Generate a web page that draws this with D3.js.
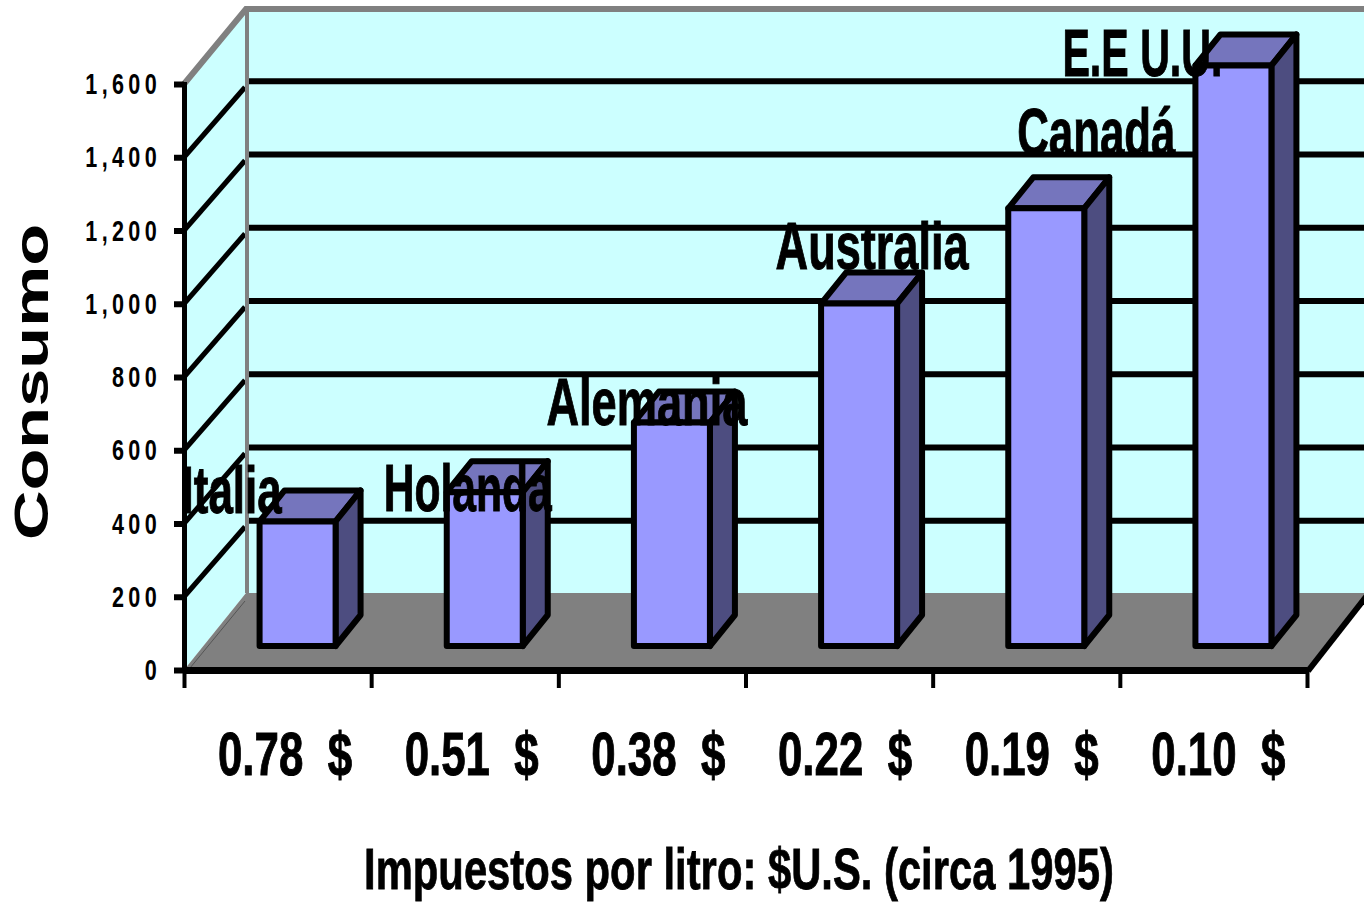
<!DOCTYPE html>
<html>
<head>
<meta charset="utf-8">
<script src="https://cdn.jsdelivr.net/npm/d3@7"></script>
<style>
body { margin: 0; background: #fff; }
svg { display: block; }
text { font-family: "Liberation Sans Narrow", "Liberation Sans", Arial, sans-serif; font-weight: bold; fill: #000; }
</style>
</head>
<body>
<div class="graphic"></div>
<script>
var paises = ["Italia", "Holanda", "Alemania", "Australia", "Canadá", "E.E U.U."];
var impuestos = ["0.78  $", "0.51  $", "0.38  $", "0.22  $", "0.19  $", "0.10  $"];
var consumo = [340, 420, 610, 935, 1195, 1585];
var yTicks = [0, 200, 400, 600, 800, 1000, 1200, 1400, 1600];

// labels sit by hand in the original, so nudge each one from its bar
var labelDx = [-66, -17, -25, 13, 50, -91];
var labelDy = [-8, 19, 2, -35, -53, 11];
var labelLen = [100, 168, 201, 193, 158, 160];

var width = 1364;
var height = 902;
var depthX = 62, depthY = -77;   // back wall offset
var barDx = 25, barDy = -31;     // bar side offset
var barW = 76;

var svg = d3.select("div.graphic").append("svg")
	.attr("width", width)
	.attr("height", height);

var y = d3.scaleLinear().domain([0, 1600]).range([670, 84]);
var xBand = d3.scaleBand().domain(paises).range([184, 1307]);
var xEdge = d3.scaleLinear().domain([0, 6]).range([184, 1307]);
var xLabel = d3.scaleBand().domain(impuestos).range([184, 1304]);

function pts(list){
	return list.map(function(p){ return p.join(","); }).join(" ");
}

var x0 = xEdge(0), x1 = xEdge(6), y0 = y(0), yTop = y(1600);

// walls and floor
svg.append("polygon").attr("fill", "#CCFFFF")
	.attr("points", pts([[x0+depthX, yTop+depthY], [width+10, yTop+depthY], [width+10, y0+depthY], [x0+depthX, y0+depthY]]));
svg.append("polygon").attr("fill", "#CCFFFF")
	.attr("points", pts([[x0, yTop], [x0+depthX, yTop+depthY], [x0+depthX, y0+depthY], [x0, y0]]));
svg.append("polygon").attr("fill", "#808080")
	.attr("points", pts([[x0, y0], [x1, y0], [x1+depthX, y0+depthY], [x0+depthX, y0+depthY]]));

// gridlines, back wall then side wall
var inner = yTicks.filter(function(d){ return d > 0 && d < 1600; });
svg.append("g").selectAll("line")
	.data(inner)
	.enter()
	.append("line")
	.attr("x1", x0+depthX).attr("x2", width+10)
	.attr("y1", function(d){ return y(d)+depthY+1; })
	.attr("y2", function(d){ return y(d)+depthY+1; })
	.attr("stroke", "#000").attr("stroke-width", 6);
svg.append("g").selectAll("line")
	.data(inner)
	.enter()
	.append("line")
	.attr("x1", x0).attr("x2", x0+depthX-1)
	.attr("y1", function(d){ return y(d); })
	.attr("y2", function(d){ return y(d)+depthY+7; })
	.attr("stroke", "#000").attr("stroke-width", 5);

// grey top edges of the walls
svg.append("polyline").attr("fill", "none").attr("stroke", "#808080").attr("stroke-width", 6)
	.attr("points", pts([[x0, yTop], [x0+depthX, yTop+depthY+2], [width+10, yTop+depthY+2]]));
svg.append("line").attr("stroke", "#808080").attr("stroke-width", 4)
	.attr("x1", x0+depthX+1).attr("x2", x0+depthX+1).attr("y1", yTop+depthY).attr("y2", y0+depthY);
svg.append("line").attr("stroke", "#555").attr("stroke-width", 1)
	.attr("x1", x0+6).attr("y1", y0-2).attr("x2", x0+depthX-1).attr("y2", y0+depthY+8);

// floor right edge
svg.append("line").attr("stroke", "#000").attr("stroke-width", 6)
	.attr("x1", x1+1).attr("y1", y0+1).attr("x2", x1+depthX).attr("y2", y0+depthY);

// bars
var bars = svg.append("g").selectAll("g")
	.data(consumo)
	.enter()
	.append("g")
	.attr("stroke", "#000")
	.attr("stroke-width", 6)
	.attr("stroke-linejoin", "round");

function barLeft(i){ return xBand(paises[i]) + xBand.bandwidth()/2 + 20 - barW/2; }
var barBase = y(0) - 24;
function barTop(d){ return y(d) - 24; }

bars.append("polygon").attr("fill", "#7575BD")
	.attr("points", function(d, i){
		var l = barLeft(i), t = barTop(d);
		return pts([[l, t], [l+barDx, t+barDy], [l+barW+barDx, t+barDy], [l+barW, t]]);
	});
bars.append("polygon").attr("fill", "#4D4D80")
	.attr("points", function(d, i){
		var r = barLeft(i)+barW, t = barTop(d);
		return pts([[r, t], [r+barDx, t+barDy], [r+barDx, barBase+barDy], [r, barBase]]);
	});
bars.append("rect").attr("fill", "#9999FF")
	.attr("x", function(d, i){ return barLeft(i); })
	.attr("y", function(d){ return barTop(d); })
	.attr("width", barW)
	.attr("height", function(d){ return barBase - barTop(d); });

// axes
var yAxis = svg.append("g")
	.attr("transform", "translate(" + x0 + ",0)")
	.call(d3.axisLeft(y).tickValues(yTicks).tickFormat(d3.format(",")).tickSize(10));
yAxis.select(".domain").attr("stroke", "#000").attr("stroke-width", 5);
yAxis.selectAll(".tick line").attr("stroke", "#000").attr("stroke-width", 6);
// digits are squeezed and spaced out in the original
yAxis.selectAll("text")
	.attr("x", 0)
	.attr("transform", "translate(-23,0) scale(0.72,1)")
	.style("font-size", "30px")
	.style("letter-spacing", "6px")
	.attr("fill", "#000");

var xAxis = svg.append("g")
	.attr("transform", "translate(0," + y0 + ")")
	.call(d3.axisBottom(xEdge).ticks(6).tickFormat("").tickSize(18).tickSizeOuter(0));
xAxis.select(".domain").attr("stroke", "#000").attr("stroke-width", 7);
xAxis.selectAll(".tick line").attr("stroke", "#000").attr("stroke-width", 4);

// labels
svg.append("g").selectAll("text")
	.data(paises)
	.enter()
	.append("text")
	.attr("text-anchor", "middle")
	.attr("x", function(d, i){ return barLeft(i) + barW/2 + labelDx[i]; })
	.attr("y", function(d, i){ return barTop(consumo[i]) + labelDy[i]; })
	.attr("textLength", function(d, i){ return labelLen[i]; })
	.attr("lengthAdjust", "spacingAndGlyphs")
	.attr("stroke", "#000")
	.attr("stroke-width", 1)
	.style("font-size", "66px")
	.text(function(d){ return d; });

svg.append("g").selectAll("text")
	.data(impuestos)
	.enter()
	.append("text")
	.attr("x", function(d){ return xLabel(d) + 34; })
	.attr("y", 775)
	.attr("textLength", 134)
	.attr("lengthAdjust", "spacingAndGlyphs")
	.attr("stroke", "#000")
	.attr("stroke-width", 1)
	.style("white-space", "pre")
	.style("font-size", "62px")
	.text(function(d){ return d; });

var title = svg.append("text")
	.attr("text-anchor", "middle")
	.attr("stroke", "#000")
	.attr("stroke-width", 0.8)
	.style("font-size", "58px")
	.text("Impuestos por litro: $U.S. (circa 1995)");
title.attr("transform", "translate(739,889) scale(" + (750 / title.node().getComputedTextLength()) + ",1)");

svg.append("text")
	.attr("transform", "translate(48,382) rotate(-90)")
	.attr("text-anchor", "middle")
	.attr("textLength", 316)
	.attr("lengthAdjust", "spacingAndGlyphs")
	.style("font-family", "'Liberation Sans', Arial, sans-serif")
	.style("font-size", "48px")
	.text("Consumo");
</script>
</body>
</html>
